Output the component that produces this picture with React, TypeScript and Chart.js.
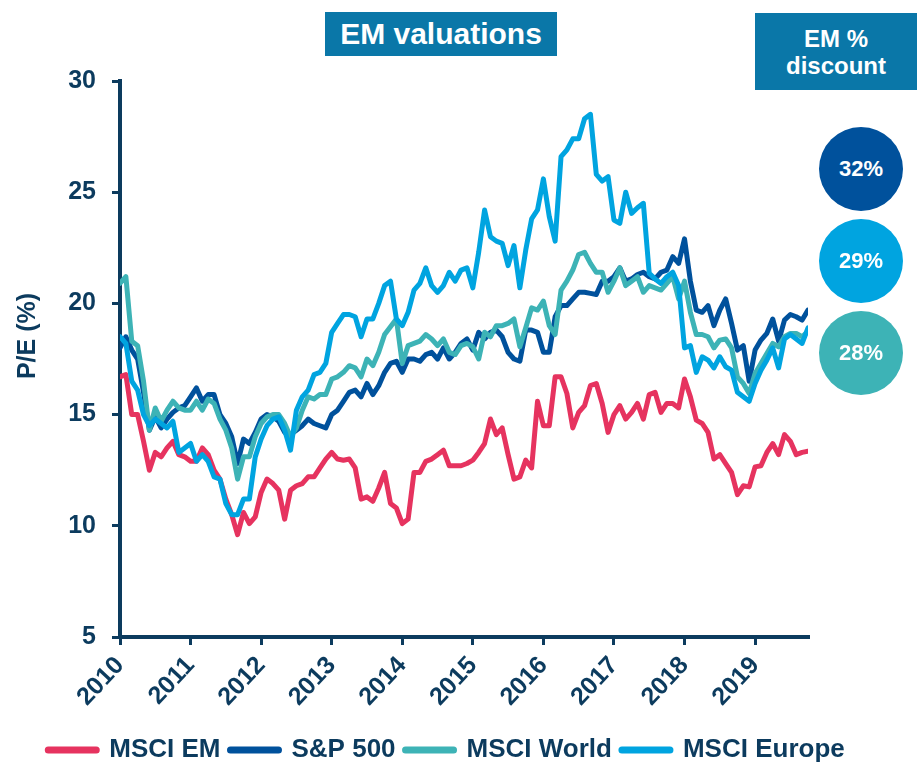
import React, { useEffect, useRef } from 'react';
import { Chart, registerables } from 'chart.js';

Chart.register(...registerables);

// ---------- data ----------
const seriesNames = ['MSCI EM', 'S&P 500', 'MSCI World', 'MSCI Europe'];
const yearLabels = ['2010', '2011', '2012', '2013', '2014', '2015', '2016', '2017', '2018', '2019'];
const discountLabels = ['32%', '29%', '28%'];
const yAxisTitle = 'P/E (%)';

// monthly P/E, Jan 2010 .. Oct 2019
const msciEM = [
  16.7, 16.8, 15.0, 15.0, 13.8, 12.5, 13.3, 13.1, 13.5, 13.8, 13.2, 13.1,
  12.9, 12.9, 13.5, 13.2, 12.5, 12.1, 11.2, 10.5, 9.6, 10.6, 10.1, 10.4,
  11.5, 12.1, 11.9, 11.6, 10.3, 11.6, 11.8, 11.9, 12.2, 12.2, 12.6, 13.0,
  13.3, 13.0, 12.95, 13.0, 12.6, 11.2, 11.3, 11.1, 11.7, 12.4, 11.0, 10.8,
  10.1, 10.3, 12.4, 12.4, 12.9, 13.0, 13.2, 13.4, 12.7, 12.7, 12.7, 12.8,
  12.95, 13.3, 13.7, 14.8, 14.1, 14.4, 13.2, 12.1, 12.2, 12.95, 12.6, 15.6,
  14.5, 14.5, 16.7, 16.7, 15.95, 14.4, 15.1, 15.4, 16.3, 16.4, 15.5, 14.2,
  15.0, 15.4, 14.8, 15.1, 15.5, 14.8, 15.9, 16.0, 15.1, 15.5, 15.5, 15.3,
  16.6, 15.8, 14.75, 14.6, 14.2, 13.0, 13.2, 12.8, 12.4, 11.4, 11.8, 11.75,
  12.65, 12.7, 13.3, 13.7, 13.2, 14.1, 13.8, 13.2, 13.3, 13.35,
];
const sp500 = [
  18.0, 18.5, 17.9, 17.5, 16.0, 14.3, 14.9, 14.4, 14.8, 15.1, 15.3, 15.4,
  15.8, 16.2, 15.6, 15.9, 15.9, 15.0, 14.6, 14.0, 12.8, 13.9, 13.7, 14.2,
  14.8, 15.0, 14.9, 14.7, 14.2, 14.1, 14.3, 14.5, 14.8, 14.6, 14.5, 14.4,
  15.0, 15.2, 15.6, 16.0, 16.1, 15.8, 16.4, 15.9, 16.3, 16.9, 17.3, 17.4,
  16.9, 17.5, 17.5, 17.4, 17.7, 17.8, 17.5, 18.0, 17.5, 17.8, 18.2, 18.4,
  17.9, 18.7, 18.4, 18.7, 18.8, 18.5, 17.8, 17.5, 17.4, 18.8, 18.8, 18.7,
  17.8, 17.8, 19.4, 19.9, 19.9, 20.2, 20.5, 20.5, 20.45, 20.4, 21.0, 21.0,
  21.2, 21.6, 21.0, 21.1, 21.3, 21.4, 21.2, 21.1, 21.4, 21.5, 22.1, 21.8,
  22.9, 21.0, 19.7, 19.6, 19.9, 19.0, 19.7, 20.2, 19.1, 17.9, 18.1, 16.5,
  17.9, 18.35, 18.65, 19.3, 18.3, 19.25, 19.5, 19.4, 19.25, 19.7,
];
const msciWorld = [
  20.9, 21.2, 18.3, 18.1, 16.5, 14.3, 15.3, 14.7, 15.2, 15.6, 15.3, 15.2,
  15.2, 15.6, 15.2, 15.7, 15.5, 14.8, 14.3, 13.5, 12.1, 13.1, 13.1, 14.0,
  14.6, 14.9, 15.0, 15.0, 14.6, 14.0, 14.4, 15.2, 15.8, 15.7, 15.9, 15.9,
  16.6, 16.7, 16.9, 17.2, 17.1, 16.7, 17.5, 17.2, 17.8, 18.6, 18.95, 19.3,
  17.3, 18.1, 18.2, 18.3, 18.6, 18.4, 18.1, 18.4, 17.8, 17.7, 18.1, 18.2,
  18.05, 17.5, 18.7, 18.5, 19.0, 19.0, 19.1, 19.3, 18.05, 18.9, 19.8, 19.7,
  20.1, 19.0, 18.6, 20.6, 21.0, 21.5, 22.2, 22.3, 21.8, 21.4, 21.4, 20.5,
  21.0, 21.6, 20.8, 21.0, 21.2, 20.5, 20.8, 20.7, 20.6, 20.9, 21.2, 20.2,
  21.0, 19.6, 18.6, 18.6, 18.5, 18.0, 18.35, 18.4, 18.0, 16.7, 16.4, 15.95,
  16.85, 17.3, 17.75, 18.2, 18.05, 18.5, 18.65, 18.65, 18.5, 18.75,
];
const msciEurope = [
  18.5, 18.2, 16.5, 16.1, 15.0, 14.5, 14.8, 14.6, 14.4, 14.7, 13.3, 13.5,
  13.7, 12.9, 13.2, 12.9, 12.2, 12.1, 11.0, 10.5, 10.5, 11.2, 11.2, 13.1,
  13.9, 14.5, 14.8, 14.9, 14.3, 13.4, 15.2, 15.8, 16.1, 16.8, 16.9, 17.3,
  18.7, 19.1, 19.5, 19.5, 19.4, 18.5, 19.3, 19.3, 20.0, 20.8, 21.0, 19.3,
  19.0, 19.6, 20.6, 20.9, 21.6, 20.8, 20.5, 20.8, 21.4, 21.0, 21.5, 21.6,
  20.7, 22.3, 24.2, 23.0, 22.8, 22.7, 21.7, 22.6, 20.7, 22.4, 23.8, 24.2,
  25.6, 23.9, 22.8, 26.6, 26.9, 27.4, 27.4, 28.3, 28.5, 25.8, 25.5, 25.7,
  23.75, 23.6, 25.0, 24.05, 24.3, 24.5, 21.35, 21.1, 20.9, 21.2, 21.4, 20.8,
  18.0, 18.1, 16.9, 17.6, 17.45, 17.1, 17.6, 17.15, 17.0, 16.0, 15.8, 15.6,
  16.4, 17.0, 17.45, 18.0, 17.1, 18.4, 18.6, 18.4, 18.2, 18.9,
];

// ---------- style ----------
const FONT = "'Liberation Sans', Arial, Helvetica, sans-serif";
const TXT = '#0c3b5e';
const AX = '#0c3b5e';
const RED = '#e6335f';
const DARK = '#00519c';
const TEAL = '#3db3b6';
const LIGHT = '#00a4e0';
const BOX = '#0a77a8';

const toPts = (arr: number[]) => arr.map((v, i) => ({ x: i, y: v }));

export default function App() {
  const ref = useRef<HTMLCanvasElement | null>(null);

  useEffect(() => {
    if (!ref.current) return;
    const line = (label: string, data: number[], color: string) => ({
      label,
      data: toPts(data),
      borderColor: color,
      backgroundColor: color,
      borderWidth: 5,
      pointRadius: 0,
      tension: 0,
      borderJoinStyle: 'round' as const,
      borderCapStyle: 'round' as const,
      fill: false,
    });
    const chart = new Chart(ref.current, {
      type: 'line',
      data: {
        // first dataset is drawn on top; legend is reversed to read EM, S&P, World, Europe
        datasets: [
          line(seriesNames[3], msciEurope, LIGHT),
          line(seriesNames[2], msciWorld, TEAL),
          line(seriesNames[1], sp500, DARK),
          line(seriesNames[0], msciEM, RED),
        ],
      },
      options: {
        responsive: false,
        animation: false,
        events: [],
        layout: { padding: { top: 81, right: 24, bottom: -10, left: 0 } },
        plugins: {
          tooltip: { enabled: false },
          legend: {
            position: 'bottom',
            reverse: true,
            labels: {
              usePointStyle: true,
              pointStyle: 'line',
              pointStyleWidth: 48,
              padding: 10,
              color: TXT,
              font: { family: FONT, size: 26, weight: 'bold' },
              generateLabels: (c: any) => {
                const items = (Chart.defaults.plugins.legend.labels as any).generateLabels(c);
                return items.map((it: any) => ({ ...it, lineWidth: 7, lineCap: 'round', pointStyle: 'line' }));
              },
            },
          },
        },
        scales: {
          x: {
            type: 'linear',
            min: 0,
            max: 117,
            afterBuildTicks: (s: any) => {
              s.ticks = s.ticks.filter((t: any) => t.value % 12 === 0);
            },
            afterFit: (s: any) => {
              s.height = 90;
            },
            ticks: {
              stepSize: 12,
              autoSkip: false,
              minRotation: 47,
              maxRotation: 47,
              padding: 6,
              color: TXT,
              font: { family: FONT, size: 25, weight: 'bold' },
              callback: (v: any) => yearLabels[Math.round(Number(v) / 12)] ?? '',
            },
            grid: { display: true, drawOnChartArea: false, drawTicks: true, tickLength: 8, color: AX, lineWidth: 3 },
            border: { display: true, color: AX, width: 4 },
          },
          y: {
            type: 'linear',
            position: 'left',
            min: 5,
            max: 30,
            afterFit: (s: any) => {
              s.width = 120;
            },
            ticks: {
              stepSize: 5,
              padding: 16,
              color: TXT,
              font: { family: FONT, size: 25, weight: 'bold' },
            },
            grid: { display: true, drawOnChartArea: false, drawTicks: true, tickLength: 8, color: AX, lineWidth: 3 },
            border: { display: true, color: AX, width: 4 },
          },
          yR: {
            type: 'linear',
            position: 'right',
            display: true,
            afterFit: (s: any) => {
              s.width = 85;
            },
            ticks: { display: false },
            grid: { display: false },
            border: { display: false },
          },
        },
      } as any,
    });
    return () => chart.destroy();
  }, []);

  const circleColors = [DARK, LIGHT, TEAL];
  const circleTops = [127, 219, 311];

  return (
    <div
      style={{
        position: 'absolute',
        left: 0,
        top: 0,
        width: 917,
        height: 763,
        background: '#ffffff',
        fontFamily: FONT,
        overflow: 'hidden',
      }}
    >
      <canvas
        ref={ref}
        width={917}
        height={763}
        style={{ position: 'absolute', left: 0, top: 0, width: 917, height: 763 }}
      />
      <div
        style={{
          position: 'absolute',
          left: -34,
          top: 321,
          width: 120,
          height: 30,
          lineHeight: '30px',
          textAlign: 'center',
          transform: 'rotate(-90deg)',
          color: TXT,
          fontWeight: 'bold',
          fontSize: 25,
          whiteSpace: 'nowrap',
        }}
      >
        {yAxisTitle}
      </div>
      <div
        style={{
          position: 'absolute',
          left: 325,
          top: 12,
          width: 232,
          height: 44,
          background: BOX,
          color: '#fff',
          fontWeight: 'bold',
          fontSize: 30,
          lineHeight: '44px',
          textAlign: 'center',
        }}
      >
        EM valuations
      </div>
      <div
        style={{
          position: 'absolute',
          left: 755,
          top: 13,
          width: 162,
          height: 77,
          background: BOX,
          color: '#fff',
          fontWeight: 'bold',
          fontSize: 24,
          lineHeight: '27px',
          textAlign: 'center',
          display: 'flex',
          flexDirection: 'column',
          justifyContent: 'center',
        }}
      >
        <div>EM %</div>
        <div>discount</div>
      </div>
      {discountLabels.map((t, i) => (
        <div
          key={t}
          style={{
            position: 'absolute',
            left: 819,
            top: circleTops[i],
            width: 84,
            height: 84,
            borderRadius: '50%',
            background: circleColors[i],
            color: '#fff',
            fontWeight: 'bold',
            fontSize: 22,
            lineHeight: '84px',
            textAlign: 'center',
          }}
        >
          {t}
        </div>
      ))}
    </div>
  );
}
